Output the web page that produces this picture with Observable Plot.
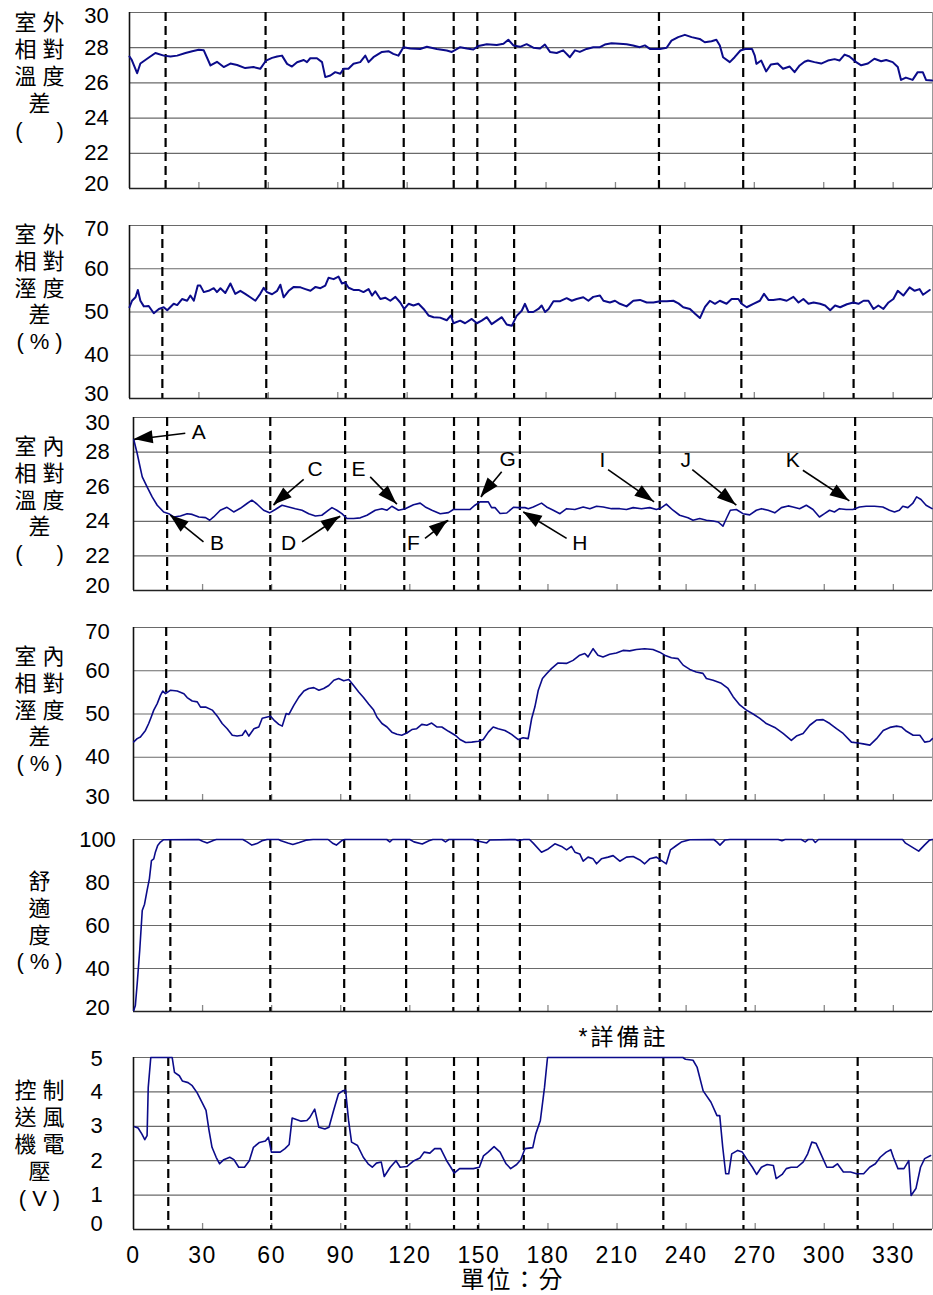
<!DOCTYPE html>
<html><head><meta charset="utf-8">
<script src="https://cdn.jsdelivr.net/npm/d3@7"></script>
<script src="https://cdn.jsdelivr.net/npm/@observablehq/plot@0.6"></script>
<style>
html,body{margin:0;padding:0;background:#fff;}
#wrap{position:relative;width:933px;height:1295px;overflow:hidden;}
#wrap svg{position:absolute;left:0;}
</style></head><body><div id="wrap"></div>
<script>
// ---------- data (minute, value) ----------
const outTemp = [[0,27.5],[1,27.3],[3.3,26.55],[4.7,27.1],[7.6,27.37],[11.2,27.7],[14.8,27.55],[17.7,27.5],[20.6,27.55],[24.2,27.7],[27.1,27.8],[29.9,27.88],[32.1,27.85],[35,26.99],[37.8,27.2],[40.7,26.9],[43.6,27.1],[46.5,27.02],[50,26.84],[53.6,26.9],[56.5,26.8],[59,27.27],[61.6,27.42],[63.8,27.5],[65.9,27.55],[68.1,27.08],[70.2,26.93],[72.4,27.17],[75.3,27.3],[76.7,27.18],[78.1,27.4],[81,27.4],[83.2,27.18],[84.6,26.33],[86.8,26.42],[88.9,26.61],[91.1,26.52],[92.5,26.8],[94.6,26.8],[96.8,27.09],[99.7,27.18],[101.9,27.55],[103.3,27.18],[105.4,27.46],[109.1,27.76],[111.9,27.8],[114,27.65],[116.2,27.55],[118.4,28.03],[121.3,27.95],[125.6,27.93],[128.5,28.05],[132.8,27.93],[137.1,27.84],[139.3,27.76],[142.9,28.03],[145.8,27.95],[148.6,27.9],[150.8,28.1],[154.4,28.2],[158.7,28.15],[161.6,28.22],[163.7,28.45],[165.9,28.13],[168.8,28.05],[171.6,28.2],[174.5,28.0],[177.4,27.95],[179.5,28.18],[181.7,27.76],[184.6,27.7],[187.4,27.85],[190.3,27.46],[192.5,27.85],[194.6,27.76],[197.5,27.93],[200.4,28.03],[203.3,28.03],[205.4,28.18],[208.3,28.25],[211.8,28.22],[214.8,28.2],[217.6,28.13],[220.5,28.03],[222.7,28.13],[224.9,27.93],[229.2,27.93],[232.1,28.0],[234.2,28.4],[237.1,28.6],[240,28.73],[242.9,28.6],[246.4,28.5],[248.6,28.31],[251.5,28.37],[253.6,28.45],[255.1,28.13],[256.5,27.46],[259.4,27.18],[261.5,27.46],[264,27.84],[266.1,27.93],[269,27.93],[270.2,27.55],[270.9,27.08],[273,27.27],[275.1,26.65],[277.2,27.05],[280.1,27.1],[282.4,26.8],[285.3,26.93],[287.4,26.61],[289.6,26.99],[291.7,27.2],[293.2,27.27],[296,27.18],[298.9,27.1],[301.8,27.27],[304.7,27.35],[306.8,27.27],[309,27.61],[311.1,27.5],[314,27.18],[316.2,27.0],[319.1,27.1],[321.9,27.37],[324.8,27.23],[327,27.3],[329.8,27.18],[332,26.9],[333.4,26.17],[335.5,26.3],[338.4,26.17],[340.6,26.61],[342.8,26.61],[344.2,26.17],[346.8,26.14]];

const outHum = [[0,51.1],[1.1,52.6],[2.6,53.4],[3.6,55.1],[4.7,52.6],[6.2,51.3],[8.3,51.4],[10.5,49.7],[12.7,50.7],[14.8,51.1],[16.3,50.4],[19.1,51.9],[20.6,51.6],[22.7,53],[24.9,52.6],[26.3,53.8],[27.8,52.6],[29.5,56.1],[30.6,56.1],[32.1,54.6],[34.2,54.9],[36.4,55.5],[37.8,54.6],[39.3,55.5],[41.4,54.4],[43.6,56.6],[45.7,54.2],[47.9,54.9],[50,54.2],[52.2,53.4],[54.4,52.6],[56.5,54.2],[58,55.6],[59.4,54.6],[61.6,54.1],[63.8,54.9],[65.2,56.3],[66.6,53.4],[68.8,54.9],[71,55.8],[73.9,55.7],[76,55.3],[78.2,54.9],[80.4,55.8],[82.5,55.5],[84.6,56.1],[86,57.9],[88.2,57.6],[90.3,58.2],[91.8,56.6],[93.2,56.8],[94.7,55.6],[96.8,55.1],[99,55.1],[101.1,54.6],[103.3,55.3],[104.8,53.8],[106.2,54.8],[108.4,53],[110.5,53.3],[112.7,52.6],[114.9,53.5],[117,52.2],[118.7,50.7],[120.6,51.9],[122.7,51.5],[124.9,51.9],[127.1,50.7],[129.2,49.2],[131.4,48.8],[134.2,48.7],[137.1,48.1],[138.9,49.2],[140,47.4],[142.9,48],[145,47.4],[147.9,48.4],[150.1,47.4],[152.2,48],[154.4,48.8],[156.5,47.2],[158.7,48],[160.9,48.8],[163,47.1],[165.2,46.8],[167.3,49.1],[169.5,50.3],[170.9,51.9],[172.4,50],[174.5,50],[176.7,50.7],[178.1,51.5],[179.6,50],[181.1,50.7],[183.2,52.5],[186.1,52.5],[188.9,53.2],[191.1,52.6],[193.2,53],[196.1,53.4],[198.3,52.6],[200.4,53.5],[203.3,53.8],[204.8,52.6],[207.6,52.2],[209.8,52.6],[211.9,51.9],[214.8,51.3],[217.7,52.6],[220.6,52.8],[223.5,52.2],[226.4,52.2],[229.3,52.5],[232.2,52.5],[235,52.6],[237.2,52],[239.3,51.1],[242.2,50.7],[244.4,49.6],[246.5,48.6],[248.7,51.2],[250.8,52.6],[253,51.9],[255.1,52.6],[258,51.9],[260.2,53],[263.1,53],[264.5,51.9],[266.7,51.1],[269.6,51.9],[272.4,52.6],[274.2,54.2],[276.1,52.8],[278.2,52.8],[281.1,53],[284,52.6],[286.9,53.5],[289.1,52.2],[291.2,53],[293.4,51.9],[295.6,52.2],[298.4,51.9],[300.6,51.5],[302.8,50.4],[304.9,51.5],[307.1,51.1],[310,51.8],[312.8,52.2],[315,51.9],[317.2,52.6],[319.3,52.6],[321.5,50.7],[323.6,51.5],[325.8,50.7],[328,52.2],[330.1,53],[332,54.9],[334.4,53.8],[337.1,55.7],[339.3,54.9],[341.4,55.3],[342.9,54],[345.8,55.1]];

const inTemp = [[0.1,28.73],[1.6,27.92],[3,27.05],[3.8,26.57],[5.9,25.99],[8.1,25.41],[10.3,24.93],[13.1,24.54],[15.3,24.44],[17.5,24.25],[20.4,24.31],[23.3,24.44],[25.5,24.4],[28.4,24.25],[31.3,24.21],[33.1,24.06],[34.8,24.25],[37.7,24.64],[40.6,24.81],[43.5,24.54],[46.4,24.75],[49.3,25.03],[51.4,25.22],[53.6,25],[56.5,24.64],[59.1,24.49],[61.6,24.68],[64.5,24.93],[67.4,24.83],[70.3,24.73],[73.2,24.64],[76.1,24.44],[79,24.31],[81.8,24.35],[84.7,24.64],[86.2,24.79],[88.3,24.64],[90.5,24.44],[92.7,24.16],[95.6,24.16],[98.5,24.2],[101.4,24.35],[105,24.64],[107.9,24.73],[110.1,24.64],[112.2,24.87],[115.1,24.64],[118,24.73],[121.6,24.96],[124.5,25.05],[126.7,24.83],[129.6,24.64],[133.2,24.44],[136.8,24.5],[138.9,24.68],[146.1,24.68],[148.3,24.93],[150.5,25.12],[154.1,25.12],[155.5,24.79],[157,24.79],[159.2,24.45],[162.1,24.48],[165,24.81],[167.1,24.79],[170,24.79],[171.5,24.73],[173.6,24.83],[177.2,25.05],[179.4,24.83],[182.3,24.64],[185.2,24.44],[188.1,24.73],[191.7,24.68],[195.3,24.83],[198.2,24.73],[201.1,24.87],[204,24.83],[207.6,24.73],[211.2,24.73],[214.1,24.68],[217,24.79],[220.6,24.73],[224.2,24.79],[227.1,24.68],[229.3,24.79],[231.4,24.99],[234.3,24.64],[237.2,24.35],[240.8,24.21],[243,24.06],[245.9,24.16],[248.8,24.06],[251.7,24.02],[253.9,23.96],[256,23.72],[257.5,24.16],[259.2,24.64],[261.8,24.68],[264.7,24.44],[267.6,24.37],[270.5,24.64],[272.7,24.73],[275.6,24.64],[278.5,24.49],[281.4,24.79],[284.3,24.89],[286.4,24.83],[289.3,24.73],[292.2,24.93],[295.1,24.68],[297.9,24.25],[300.1,24.44],[302.3,24.64],[304.4,24.54],[306.6,24.73],[309.5,24.68],[312.4,24.68],[315.3,24.83],[318.2,24.87],[321.8,24.87],[325.4,24.83],[328.3,24.64],[330.5,24.54],[332.6,24.64],[334.1,24.87],[336.3,24.79],[338.4,25.03],[340.1,25.41],[342,25.26],[344.2,24.93],[346.8,24.73]];

const inHum = [[0.1,43.55],[1.6,44.3],[3,44.7],[5.2,46.2],[6.6,47.8],[7.7,49.3],[8.8,50.9],[10.3,52.4],[11.7,54.3],[12.7,55.3],[13.9,54.7],[16.1,55.5],[19,55.3],[21.9,54.7],[23.3,53.8],[25.5,53],[27.7,52.8],[29.1,51.6],[31.3,51.6],[34.2,50.9],[36.4,49.5],[38.5,47.8],[40.7,46.6],[42.9,45.1],[45,44.9],[47.2,45.1],[48.6,46.2],[50.1,44.9],[52.3,46.6],[54.4,47],[55.9,49],[58.1,49.3],[59.5,49.5],[61,48.6],[63.1,47.6],[64.6,47.2],[66.3,50.1],[67.5,49.9],[69.6,52],[71.8,53.9],[74,55.3],[76.1,55.9],[78.3,56.1],[80.5,55.5],[82.6,55.9],[84.8,56.6],[87,57.8],[89.1,58.2],[91.3,57.7],[93.5,58],[95.6,56.6],[97.8,55.1],[99.9,53.8],[102.1,52.3],[104.3,50.9],[105.7,49.3],[107.9,47.8],[110.1,47],[112.2,45.8],[114.4,45.3],[116.5,45.1],[118.7,45.6],[120.9,46.4],[123,46.6],[125.2,47.6],[127.4,47.4],[129.5,47.9],[131.7,47],[133.9,47],[136.8,46],[139.7,45.1],[141.8,44.1],[144.3,43.4],[146.9,43.5],[149.8,43.7],[151.9,44.1],[154.1,45.8],[156.2,47],[158.4,46.6],[161.3,46.2],[164.2,45.3],[167.1,44.1],[169.2,44.5],[171.4,44.3],[172.9,48.9],[174.3,51.6],[175.8,55.5],[177.6,58.2],[179.4,59.3],[181.5,60.5],[184.4,61.8],[188,61.7],[190.9,62.4],[193.8,63.6],[196,64],[197.4,63.2],[199.6,65.1],[201.7,63.6],[203.9,63.2],[206.8,63.8],[209.7,64.1],[212.6,64.7],[215.5,64.6],[218.4,64.9],[222,65.1],[225.6,64.9],[228.5,64.3],[230.7,63.6],[233.6,63],[236.5,62.8],[238.7,61.3],[241.6,60.3],[244.4,59.7],[247.3,59.4],[248.8,58.2],[251.7,57.8],[255.3,57.1],[258.2,55.9],[260.4,54],[263.3,52.1],[266.2,50.9],[269.1,50],[272,49],[274.8,47.8],[278.5,46.9],[282.1,45.5],[285.7,43.9],[287.9,44.9],[290.8,45.5],[293.7,47.4],[296.6,48.6],[299.5,48.7],[302.4,47.8],[305.3,46.6],[308.2,45.5],[311.8,43.5],[314.7,43.3],[316.9,43.1],[319.8,42.8],[322.7,44.3],[325.6,46.2],[328.5,46.9],[331.4,47.2],[333.5,47],[335.7,46],[338.6,45.1],[341.5,45.1],[343.6,43.5],[345.8,43.7],[347,44.3]];

const comfort = [[0.1,20.5],[0.8,22.8],[1.6,32.9],[2.7,48.4],[3.8,67],[4.8,69.9],[5.9,76.3],[6.9,81.7],[7.8,90.2],[8.8,91],[9.5,94.1],[10.5,97.2],[11.7,98.8],[13.1,99.9],[28.4,100],[30,99.2],[32,98.4],[34.9,99.6],[36,100],[47.5,100],[49.3,98.9],[51.4,97.4],[53.6,98.1],[55.8,99.4],[58,100],[63,100],[64.1,99.4],[67,98.4],[69.2,97.7],[72,98.6],[74.9,99.7],[78,100],[84.5,100],[86.7,98.1],[88.1,97.4],[90.3,99.4],[91.8,100],[110,100],[111.3,98.9],[112.5,100],[120,100],[121.8,98.9],[125.4,97.9],[128.3,99.4],[130,100],[134,100],[135.5,98.9],[137,100],[147.5,100],[149,99.4],[153.4,98.4],[154.8,99.8],[165.7,100],[167,99.5],[169.5,100],[172,100],[173.6,98.3],[177.2,94.1],[180.1,95.6],[183,98],[185.9,96.8],[188.1,95.2],[190.2,96.8],[191.7,94.1],[193.8,93.3],[195.3,89.9],[197.4,91.8],[199.6,91],[201.1,88.7],[203.2,91],[206.1,91.8],[208.3,92.5],[211.2,89.9],[214.1,91.8],[217,92.1],[219.9,90.5],[222,88.7],[224.2,91],[227.1,91.8],[229.3,90.2],[231.4,88.7],[233.2,95.2],[235.8,97.2],[237.9,98.8],[241.6,99.9],[252,100],[253.3,98.9],[254.7,97.4],[256.9,99.8],[259,100],[280,100],[281.6,99.4],[283,100],[290,100],[291.7,98.9],[293,100],[295,100],[296.1,98.6],[297.5,100],[334,100],[335.3,98.3],[341,94.6],[343.5,97.4],[345.7,99.7],[347,100]];

const fanVolt = [[0.5,2.99],[2,2.95],[3.6,2.78],[4.9,2.61],[5.9,2.73],[6.4,4.13],[7.5,5],[16.8,5],[17.8,4.57],[19.9,4.47],[21.2,4.32],[23.7,4.27],[25.5,4.18],[27.6,3.98],[29.7,3.7],[31.5,3.46],[32.8,2.88],[34.1,2.39],[35.9,2.1],[37.4,1.91],[39.2,2.03],[41.8,2.1],[43.6,2.03],[45.7,1.81],[48.2,1.81],[50.3,2.0],[52.1,2.39],[54.7,2.53],[57.3,2.57],[58.6,2.68],[59.9,2.25],[63.7,2.25],[65.8,2.35],[67.6,2.47],[68.9,3.24],[72.8,3.15],[75.3,3.17],[76.6,3.26],[78.7,3.5],[80.5,2.97],[83.1,2.92],[84.9,2.97],[86.9,3.46],[89,3.94],[90.8,4.03],[92.1,4.05],[93.4,3.17],[94.7,2.54],[97.3,2.44],[99.8,2.1],[101.9,1.91],[103.7,1.81],[105.5,1.93],[107.6,1.96],[108.9,1.54],[111.5,1.81],[114,2.0],[115.8,1.81],[118.7,1.83],[121.8,2.0],[124.4,2.08],[126.2,2.25],[128.7,2.22],[130.8,2.35],[133.4,2.35],[136,2.0],[137.8,1.81],[139.3,1.64],[141.6,1.77],[147.6,1.77],[150.2,1.81],[152,2.14],[154,2.25],[156.6,2.41],[159.2,2.25],[161.8,1.91],[163.8,1.77],[166.4,1.89],[168.2,2.03],[170,2.35],[173.4,2.38],[174.7,2.78],[176.7,3.17],[178.5,4.13],[179.8,5],[238.6,5],[239.7,4.95],[243,4.92],[244.8,4.71],[247.4,4.03],[250.8,3.7],[253.4,3.31],[254.6,3.31],[255.9,2.39],[257.2,1.62],[258.5,1.62],[259.8,2.2],[262.4,2.3],[264.4,2.25],[266.2,2.06],[268.8,1.81],[270.6,1.6],[272.7,1.81],[275.2,1.89],[277.9,1.86],[279.1,1.48],[281.7,1.6],[283.5,1.77],[285.6,1.81],[288.2,1.81],[290.8,1.96],[292.8,2.2],[294.6,2.54],[296.4,2.51],[298.5,2.2],[301.1,1.81],[303.7,1.81],[305.7,1.91],[308.3,1.67],[311.4,1.67],[314,1.62],[317.1,1.62],[319.7,1.81],[322.2,1.91],[324.3,2.1],[326.9,2.25],[328.9,2.32],[330,2.1],[332,1.77],[334.6,1.77],[336.7,2.0],[337.7,0.99],[339.8,1.19],[341.8,1.81],[343.6,2.06],[346.2,2.15]];

// event markers (minutes) per panel
const evOutTemp = [15.6,58.8,92.4,118.5,140.1,150.3,166.7,228.8,265.2,313.4];
const evOutHum  = [14.2,59.1,93.4,118.7,139.4,149.6,166.2,229.2,264.4,312.9];
const evInTemp  = [14.6,59.4,91.9,117.6,139.2,149.7,167.8,228.5,264.9,313.4];
const evInHum   = [14.2,59.4,94.1,118.4,140.1,150.5,167.8,230.3,265.8,314.5];
const evComfort = [16.0,59.4,91.5,118.4,138.9,149.6,167.8,228.5,265.8,313.5];
const evFan     = [15.1,59.8,92.0,118.6,139.2,149.6,169.5,230.1,264.9,314.5];

// annotations on indoor temperature: [label, labelX, labelY, fromX, fromY, tipX, tipY]
const annotations = [
  ["A",28.3,29.17,22.5,29.09,0.3,28.73],
  ["B",36.3,22.72,30.4,22.81,16.0,24.35],
  ["C",78.9,26.99,73.9,26.42,60.8,24.93],
  ["D",67.3,22.72,73.2,22.81,89.8,24.29],
  ["E",97.7,26.99,102.8,26.57,114.4,24.99],
  ["F",121.6,22.72,126.6,23.01,136.7,24.06],
  ["G",162.5,27.57,159.9,26.86,150.9,25.41],
  ["H",193.8,22.72,188.1,23.01,169.3,24.54],
  ["I",203.7,27.53,206.1,26.99,226.1,25.12],
  ["J",239.8,27.53,242.7,26.99,261.8,24.93],
  ["K",286.3,27.53,290.7,26.95,310.9,25.18]
];

const xTicks = [0,30,60,90,120,150,180,210,240,270,300,330];
const xTitle = "單位：分";
const note = "*詳備註";

const FONT = '"Liberation Sans","Arial","Noto Sans CJK TC",sans-serif';
const XMAX = 347;
const wrap = document.getElementById("wrap");

function spacing(svg, content, px) {
  d3.select(svg).selectAll("text")
    .filter(function() { return this.textContent === content; })
    .style("letter-spacing", px);
}

function panel(o) {
  const marginTop = o.marginTop ?? 14, marginBottom = o.marginBottom ?? 4;
  const height = marginTop + o.frameH + marginBottom;
  const mid = (o.marginLeft + 932) / 2;
  const t = o.yTicks, n = t.length;
  const axisOpts = {tickSize: 0, tickPadding: o.tickPad, textAnchor: "middle", fontSize: 22, label: null, tickFormat: d => String(d)};
  const marks = [
    Plot.ruleY(t, {stroke: "#6a6a6a", strokeWidth: 1.2}),
    Plot.ruleX(xTicks.slice(1), {stroke: "#888", strokeWidth: 1.3, insetTop: o.frameH - 6}),
    Plot.ruleX(o.events, {stroke: "#000", strokeWidth: 2.2, strokeDasharray: "9,5"}),
    Plot.ruleX([0], {stroke: "#111", strokeWidth: 1.6}),
    Plot.ruleX([XMAX], {stroke: "#999", strokeWidth: 1}),
    Plot.ruleY([o.yDomain[0]], {stroke: "#222", strokeWidth: 1.6}),
    Plot.line(o.data, {x: d => d[0], y: d => d[1], stroke: "#0b0b8a", strokeWidth: o.sw ?? 1.6}),
    Plot.axisY({...axisOpts, ticks: t.slice(1, n - 1)}),
    Plot.axisY({...axisOpts, ticks: [t[0]], dy: o.endDy[0]}),
    Plot.axisY({...axisOpts, ticks: [t[n - 1]], dy: o.endDy[1]}),
    Plot.text([o.label], {frameAnchor: "left", text: d => d, dx: 42 - o.marginLeft, dy: o.labelDy, textAnchor: "middle", lineHeight: 1.22, fontSize: 22}),
    ...(o.extra ? o.extra(mid) : [])
  ];
  const svg = Plot.plot({
    width: 933, height, marginLeft: o.marginLeft, marginRight: 1, marginTop, marginBottom,
    style: {background: "transparent", overflow: "visible", fontFamily: FONT, color: "#000"},
    x: {domain: [0, XMAX], axis: o.showX ? undefined : null},
    y: {domain: o.yDomain},
    marks
  });
  svg.style.top = (o.frameTop - marginTop) + "px";
  spacing(svg, o.label.replace(/\n/g, ""), "6px");
  wrap.appendChild(svg);
  return svg;
}

panel({data: outTemp, yDomain: [20,30], yTicks: [20,22,24,26,28,30], events: evOutTemp, endDy: [-5, 3],
  label: "室外\n相對\n溫度\n差\n(\u3000)", labelDy: -25, frameTop: 12, frameH: 176, marginLeft: 129, tickPad: 33, sw: 2});
panel({data: outHum, yDomain: [30,70], yTicks: [30,40,50,60,70], events: evOutHum, endDy: [-5, 3],
  label: "室外\n相對\n溼度\n差\n(%)", labelDy: -25, frameTop: 225, frameH: 173, marginLeft: 129, tickPad: 33, sw: 2});
const p3 = panel({data: inTemp, yDomain: [20,30], yTicks: [20,22,24,26,28,30], events: evInTemp, endDy: [-5, 5],
  label: "室內\n相對\n溫度\n差\n(\u3000)", labelDy: -5, frameTop: 417, frameH: 173, marginLeft: 133, tickPad: 36,
  extra: () => [
    Plot.link(annotations, {x1: d => d[3], y1: d => d[4], x2: d => d[5], y2: d => d[6], stroke: "#000", strokeWidth: 1.6}),
    Plot.text(annotations, {x: d => d[1], y: d => d[2], text: d => d[0], fontSize: 21, fill: "#000"})
  ]});
panel({data: inHum, yDomain: [30,70], yTicks: [30,40,50,60,70], events: evInHum, endDy: [-4, 4],
  label: "室內\n相對\n溼度\n差\n(%)", labelDy: -5, frameTop: 627, frameH: 173, marginLeft: 133, tickPad: 36});
panel({data: comfort, yDomain: [20,100], yTicks: [20,40,60,80,100], events: evComfort, endDy: [-4, 0],
  label: "舒\n適\n度\n(%)", labelDy: -5, frameTop: 839, frameH: 172, marginLeft: 133, tickPad: 36});
const p6 = panel({data: fanVolt, yDomain: [0,5], yTicks: [0,1,2,3,4,5], events: evFan, endDy: [-6, 1],
  label: "控制\n送風\n機電\n壓\n(V)", labelDy: 0, frameTop: 1057, frameH: 172, marginLeft: 133, tickPad: 37,
  marginTop: 40, marginBottom: 66, showX: true,
  extra: (mid) => [
    Plot.axisX({ticks: xTicks, tickSize: 0, tickPadding: 17, fontSize: 23, label: null}),
    Plot.text([xTitle], {frameAnchor: "bottom", lineAnchor: "middle", text: d => d, dx: 512 - mid, dy: 51, fontSize: 24}),
    Plot.text([note], {frameAnchor: "top", lineAnchor: "middle", text: d => d, dx: 623 - mid, dy: -20, fontSize: 23})
  ]});
spacing(p6, xTitle, "2px");
spacing(p6, note, "3px");
d3.select(p6).selectAll("text")
  .filter(function() { return this.parentNode.childElementCount === xTicks.length; })
  .style("letter-spacing", "1.5px");

// filled arrowheads for annotations, positioned through the plot's own scales
{
  const sx = p3.scale("x"), sy = p3.scale("y");
  const g = d3.select(p3).append("g").attr("aria-label", "arrowheads");
  for (const a of annotations) {
    const X1 = sx.apply(a[3]), Y1 = sy.apply(a[4]), X2 = sx.apply(a[5]), Y2 = sy.apply(a[6]);
    const ang = Math.atan2(Y2 - Y1, X2 - X1);
    const L = 19, W = 6.5;
    const bx = X2 - L * Math.cos(ang), by = Y2 - L * Math.sin(ang);
    const px = -Math.sin(ang) * W, py = Math.cos(ang) * W;
    g.append("path").attr("d", `M${X2},${Y2}L${bx + px},${by + py}L${bx - px},${by - py}Z`).attr("fill", "#000");
  }
}
</script></body></html>
